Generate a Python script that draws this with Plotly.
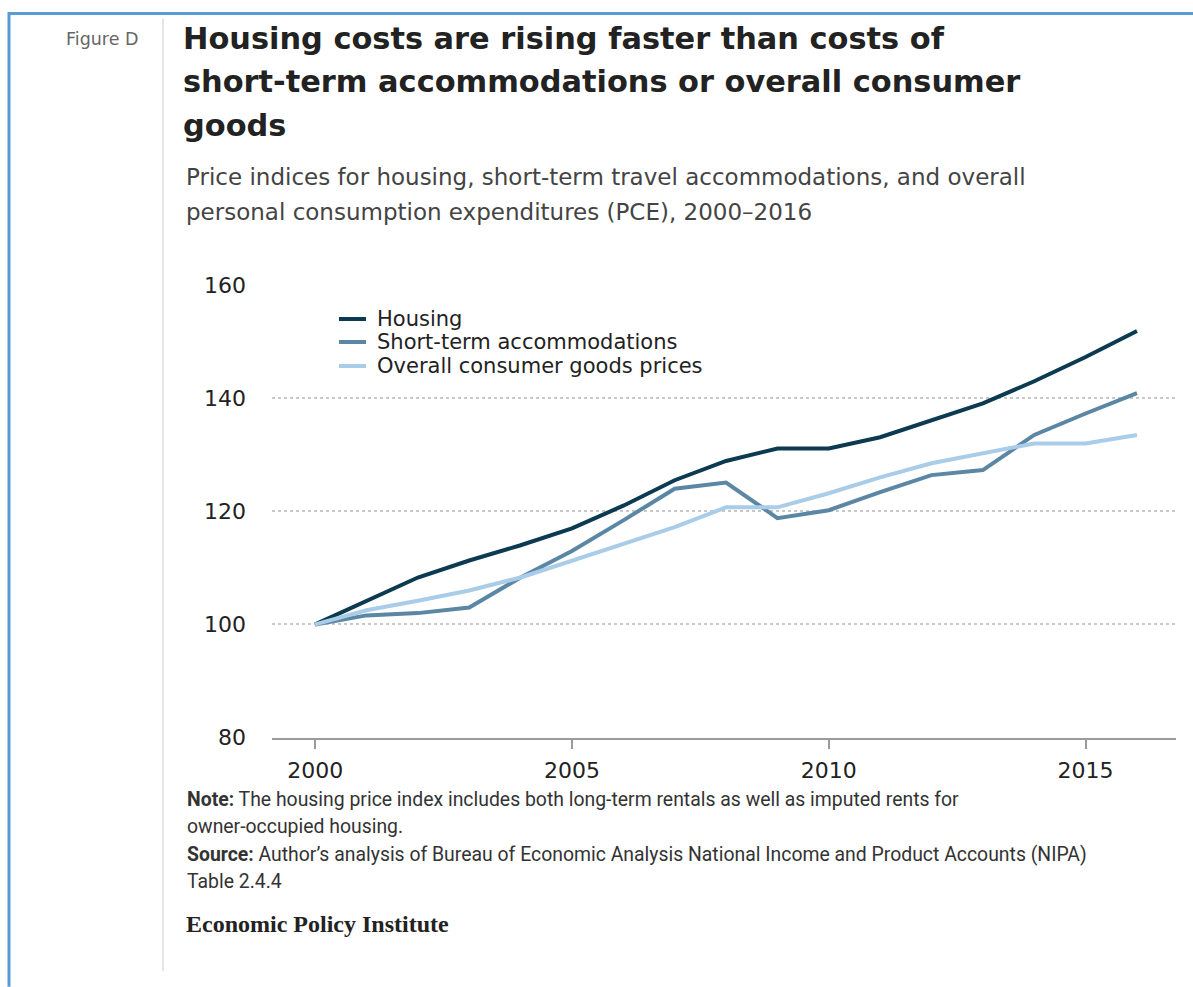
import plotly.graph_objects as go

# Price indices, 2000 = 100
years = list(range(2000, 2017))
housing = [100.0, 104.2, 108.3, 111.3, 114.0, 117.0, 121.0, 125.5, 128.9, 131.1,
           131.1, 133.1, 136.1, 139.1, 143.0, 147.3, 151.9]
short_term = [100.0, 101.6, 102.0, 103.0, 108.3, 113.0, 118.4, 124.0, 125.1, 118.8,
              120.2, 123.4, 126.4, 127.3, 133.5, 137.3, 140.9]
overall_pce = [100.0, 102.5, 104.2, 106.0, 108.3, 111.3, 114.3, 117.2, 120.7, 120.7,
               123.2, 126.0, 128.5, 130.3, 132.0, 132.0, 133.5]

series_names = ["Housing", "Short-term accommodations", "Overall consumer goods prices"]
series_colors = ["#0c3a51", "#5b87a5", "#a9cce8"]
series_values = [housing, short_term, overall_pce]

y_ticks = [80, 100, 120, 140, 160]
x_ticks = [2000, 2005, 2010, 2015]

W, H = 1193, 987
SANS = "DejaVu Sans, Verdana, sans-serif"


def fx(p):
    return p / W


def fy(p):
    return 1 - p / H


fig = go.Figure()
for name, color, vals in zip(series_names, series_colors, series_values):
    fig.add_trace(go.Scatter(x=years, y=vals, name=name, mode="lines",
                             line=dict(color=color, width=4), showlegend=False))

fig.update_layout(
    width=W, height=H,
    margin=dict(l=0, r=0, t=0, b=0),
    paper_bgcolor="white", plot_bgcolor="white",
    font=dict(family=SANS, color="#222"),
    xaxis=dict(
        domain=[fx(272), fx(1176)],
        range=[1999.16, 2016.76],
        tickvals=x_ticks,
        ticks="outside", ticklen=9, tickwidth=1.5, tickcolor="#9a9a9a",
        showline=True, linecolor="#9a9a9a", linewidth=2,
        showgrid=False, zeroline=False,
        ticklabelstandoff=3,
        tickfont=dict(size=22, color="#222"),
    ),
    yaxis=dict(
        domain=[fy(744.4), fy(280.2)],
        range=[80, 160],
        tickvals=y_ticks,
        showgrid=True, gridcolor="#c8c8c8", gridwidth=2, griddash="dot",
        zeroline=False, showline=False, ticks="",
        ticklabelstandoff=25,
        tickfont=dict(size=22, color="#222"),
    ),
)

# Legend drawn as short swatches with labels
legend_rows = [315, 338.6, 363.2]
for name, color, yy in zip(series_names, series_colors, legend_rows):
    fig.add_shape(type="line", xref="paper", yref="paper",
                  x0=fx(339), x1=fx(366), y0=fy(yy), y1=fy(yy),
                  line=dict(color=color, width=4))
    fig.add_annotation(xref="paper", yref="paper", x=fx(375), y=fy(yy),
                       xanchor="left", yanchor="middle", showarrow=False,
                       height=22, valign="middle",
                       text=name, font=dict(size=21, color="#222"))

# Page frame and divider
fig.add_shape(type="line", xref="paper", yref="paper", x0=fx(8), x1=1,
              y0=fy(1.5), y1=fy(1.5), line=dict(color="#5b9bd5", width=3))
fig.add_shape(type="line", xref="paper", yref="paper", x0=fx(9), x1=fx(9),
              y0=fy(0), y1=fy(1000), line=dict(color="#5b9bd5", width=3))
fig.add_shape(type="line", xref="paper", yref="paper", x0=fx(163), x1=fx(163),
              y0=fy(6.7), y1=fy(984), line=dict(color="#dddddd", width=1.5))

fig.add_annotation(xref="paper", yref="paper", x=fx(64), y=fy(27.2),
                   xanchor="left", yanchor="middle", showarrow=False,
                   text="Figure D", font=dict(size=17.5, color="#666"))

title_lines = ["Housing costs are rising faster than costs of",
               "short-term accommodations or overall consumer",
               "goods"]
for i, line in enumerate(title_lines):
    fig.add_annotation(xref="paper", yref="paper", x=fx(181), y=fy(27.2 + 44.6 * i),
                       xanchor="left", yanchor="middle", showarrow=False,
                       text="<b>" + line + "</b>",
                       font=dict(size=30.4, color="#222"))

subtitle_lines = ["Price indices for housing, short-term travel accommodations, and overall",
                  "personal consumption expenditures (PCE), 2000\u20132016"]
for i, line in enumerate(subtitle_lines):
    fig.add_annotation(xref="paper", yref="paper", x=fx(184), y=fy(169.6 + 35.8 * i),
                       xanchor="left", yanchor="middle", showarrow=False,
                       text=line, font=dict(size=23, color="#444"))

notes = [
    (807.9, "<b>Note:</b> The housing price index includes both long-term rentals as well as imputed rents for"),
    (835.6, "owner-occupied housing."),
    (864.2, "<b>Source:</b> Author\u2019s analysis of Bureau of Economic Analysis National Income and Product Accounts (NIPA)"),
    (891.9, "Table 2.4.4"),
]
for yy, t in notes:
    fig.add_annotation(xref="paper", yref="paper", x=fx(185), y=fy(yy),
                       xanchor="left", yanchor="middle", showarrow=False,
                       text=t, font=dict(family="Roboto, sans-serif", size=19.4, color="#333"))

fig.add_annotation(xref="paper", yref="paper", x=fx(184), y=fy(936),
                   xanchor="left", yanchor="middle", showarrow=False,
                   text="<b>Economic Policy Institute</b>",
                   font=dict(family="Liberation Serif, serif", size=24, color="#222"))

fig.write_html("out.html")
